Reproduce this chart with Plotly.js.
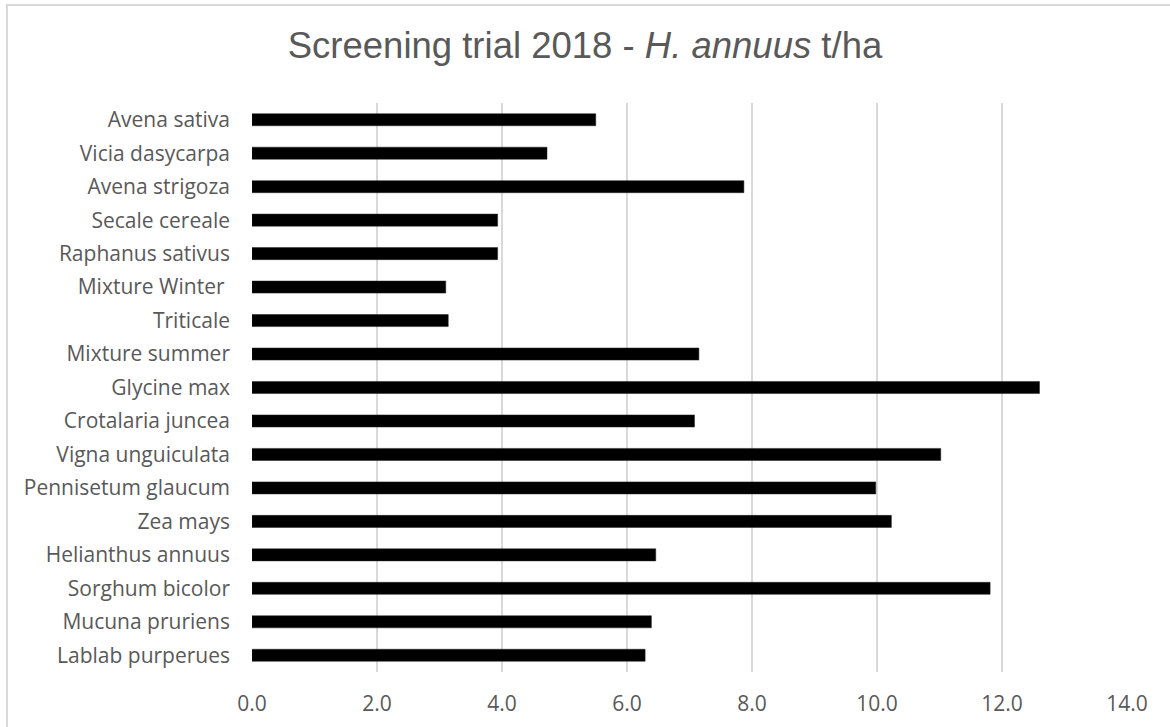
<!DOCTYPE html>
<html>
<head>
<meta charset="utf-8">
<script src="https://cdn.plot.ly/plotly-3.0.1.min.js"></script>
<style>
  html, body { margin: 0; padding: 0; background: #fff; overflow: hidden; }
  #frame { position: absolute; left: 6px; top: 4px; width: 1300px; height: 900px;
           border-left: 2px solid #d9d9d9; border-top: 2px solid #d9d9d9; box-sizing: border-box; }
  #chart { position: absolute; left: 0; top: 0; width: 1170px; height: 727px; }
</style>
</head>
<body>
<div id="frame"></div>
<div id="chart"></div>
<script>
// categories listed top to bottom as shown
const categories = [
  "Avena sativa", "Vicia dasycarpa", "Avena strigoza", "Secale cereale",
  "Raphanus sativus", "Mixture Winter ", "Triticale", "Mixture summer",
  "Glycine max", "Crotalaria juncea", "Vigna unguiculata", "Pennisetum glaucum",
  "Zea mays", "Helianthus annuus", "Sorghum bicolor", "Mucuna pruriens",
  "Lablab purperues"
];
const yieldValues = [
  5.50, 4.72, 7.87, 3.93,
  3.93, 3.10, 3.14, 7.15,
  12.60, 7.08, 11.02, 9.98,
  10.23, 6.46, 11.81, 6.39,
  6.29
];
const xTickVals = [0, 2, 4, 6, 8, 10, 12, 14];
const xTickText = ["0.0", "2.0", "4.0", "6.0", "8.0", "10.0", "12.0", "14.0"];
const titleText = "Screening trial 2018 - <i>H. annuus</i> t/ha";

const trace = {
  type: "bar",
  orientation: "h",
  y: categories,
  x: yieldValues,
  marker: { color: "#000000", line: { color: "#222222", width: 0.5 } },
  hoverinfo: "x+y"
};

const layout = {
  width: 1170,
  height: 727,
  margin: { l: 252, r: 43, t: 103, b: 55 },
  paper_bgcolor: "rgba(0,0,0,0)",
  plot_bgcolor: "rgba(0,0,0,0)",
  showlegend: false,
  bargap: 0.64,
  title: {
    text: titleText,
    font: { family: "Liberation Sans, Arial, sans-serif", size: 36.5, color: "#595959" },
    x: 0.5, xref: "container", xanchor: "center",
    y: 1 - 45 / 727, yref: "container", yanchor: "middle"
  },
  xaxis: {
    range: [0, 14],
    tickvals: xTickVals,
    ticktext: xTickText,
    showgrid: true,
    gridcolor: "#d9d9d9",
    gridwidth: 1.3,
    zeroline: false,
    showline: false,
    ticks: "",
    ticklabelstandoff: 17,
    tickfont: { family: "Open Sans, sans-serif", size: 21, color: "#595959" },
    fixedrange: true
  },
  yaxis: {
    type: "category",
    autorange: "reversed",
    showgrid: false,
    zeroline: false,
    showline: false,
    ticks: "",
    ticklabelstandoff: 21,
    tickfont: { family: "Open Sans, sans-serif", size: 21, color: "#595959" },
    fixedrange: true
  }
};

Plotly.newPlot("chart", [trace], layout, { displayModeBar: false, staticPlot: true });
</script>
</body>
</html>
